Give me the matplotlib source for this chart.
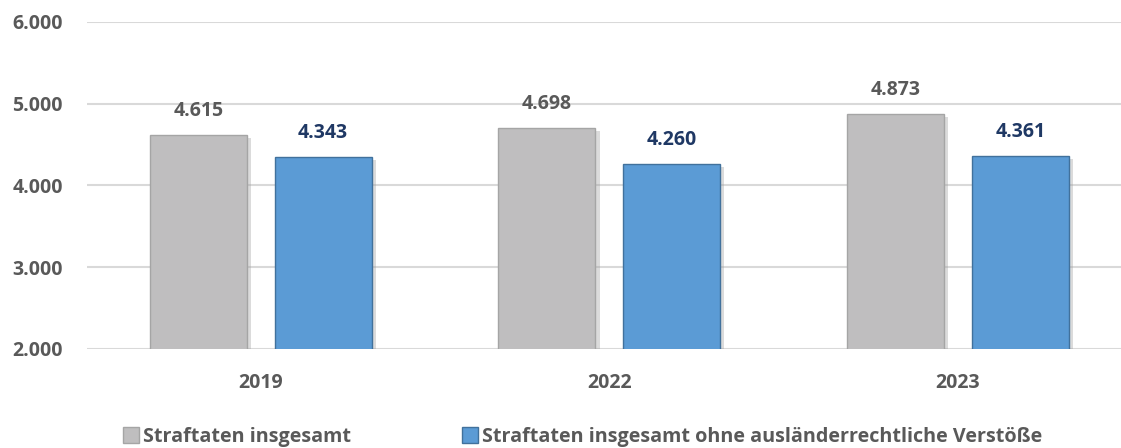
import numpy as np
import matplotlib
matplotlib.use('Agg')
import matplotlib.pyplot as plt
import matplotlib.patheffects as pe
from matplotlib.patches import Patch

# Daten
jahre = ['2019', '2022', '2023']
insgesamt = [4615, 4698, 4873]
ohne_auslaender = [4343, 4260, 4361]
serien_namen = ['Straftaten insgesamt', 'Straftaten insgesamt ohne ausländerrechtliche Verstöße']

def fmt(v):
    # deutsches Tausendertrennzeichen
    return f'{v:,.0f}'.replace(',', '.')

plt.rcParams['font.family'] = ['Open Sans', 'DejaVu Sans']
plt.rcParams['font.weight'] = 'bold'

fig = plt.figure(figsize=(11.21, 4.48), dpi=100)
# Zeichenflaeche reicht rechts etwas ueber den Bildrand hinaus (wie im Original)
ax = fig.add_axes([0.0772, 0.221, 0.9327, 0.730])

x = np.arange(len(jahre))
w = 0.278
off = 0.179
schatten = [pe.SimplePatchShadow(offset=(3, -2), shadow_rgbFace='#9a9a9a', alpha=0.35), pe.Normal()]

b1 = ax.bar(x - off, insgesamt, w, color='#BFBEBF', edgecolor='#A5A5A5', linewidth=1.0, zorder=3)
b2 = ax.bar(x + off, ohne_auslaender, w, color='#5B9BD5', edgecolor='#41719C', linewidth=1.0, zorder=3)
for b in list(b1) + list(b2):
    b.set_path_effects(schatten)

for xi, v in zip(x, insgesamt):
    ax.annotate(fmt(v), (xi - off, v), xytext=(0, 14), textcoords='offset points',
                ha='center', va='baseline', fontsize=14, fontweight='bold', color='#595959')
for xi, v in zip(x, ohne_auslaender):
    ax.annotate(fmt(v), (xi + off, v), xytext=(0, 14), textcoords='offset points',
                ha='center', va='baseline', fontsize=14, fontweight='bold', color='#1F3864')

ax.set_ylim(2000, 6000)
ax.set_xlim(-0.5, 2.5)
ax.set_yticks([2000, 3000, 4000, 5000, 6000])
ax.set_yticklabels([fmt(t) for t in [2000, 3000, 4000, 5000, 6000]], fontweight='bold')
ax.set_xticks(x)
ax.set_xticklabels(jahre, fontweight='bold')
ax.tick_params(axis='y', length=0, pad=17, labelsize=14, labelcolor='#595959')
ax.tick_params(axis='x', length=0, pad=17, labelsize=14, labelcolor='#595959')

ax.grid(axis='y', color='#D9D9D9', linewidth=1.5, zorder=0)
ax.set_axisbelow(True)
for s in ax.spines.values():
    s.set_visible(False)

handles = [Patch(facecolor='#BFBEBF', edgecolor='#A5A5A5'),
           Patch(facecolor='#5B9BD5', edgecolor='#41719C')]
fig.legend(handles, serien_namen, loc='center left', bbox_to_anchor=(0.094, 0.025), ncol=2,
           frameon=False, handlelength=0.8, handleheight=0.9, handletextpad=0.2, columnspacing=5.65,
           prop={'size': 14.2, 'weight': 'bold'}, labelcolor='#595959')

fig.savefig('out.png', dpi=100)
